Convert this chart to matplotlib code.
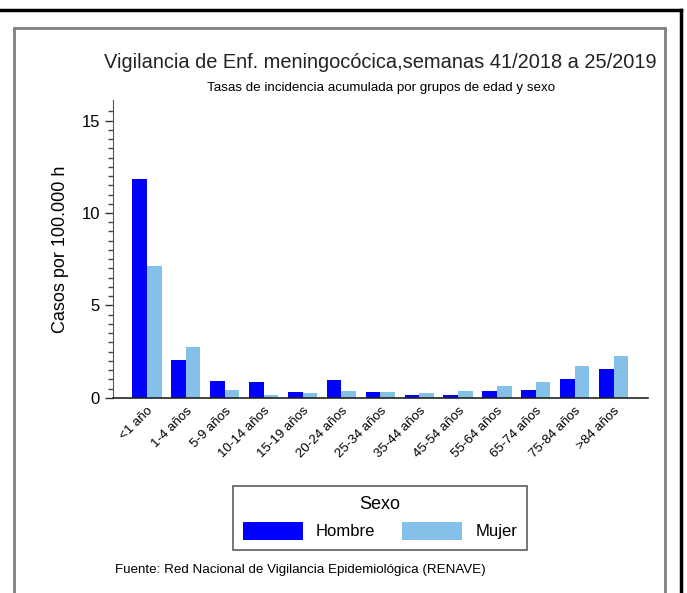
import numpy as np
from matplotlib import pyplot as plt
from matplotlib.lines import Line2D

plt.rcParams['font.family'] = ['Liberation Sans', 'DejaVu Sans']

# Age groups and rates per 100.000 inhabitants
grupos = ['<1 año', '1-4 años', '5-9 años', '10-14 años', '15-19 años',
          '20-24 años', '25-34 años', '35-44 años', '45-54 años',
          '55-64 años', '65-74 años', '75-84 años', '>84 años']
hombre = [11.86, 2.06, 0.90, 0.87, 0.34, 0.95, 0.34, 0.14, 0.14,
          0.40, 0.45, 1.03, 1.59]
mujer = [7.13, 2.76, 0.45, 0.16, 0.27, 0.36, 0.30, 0.27, 0.40,
         0.65, 0.85, 1.70, 2.24]

c_hombre = '#0000ff'
c_mujer = '#85c0e9'

fig = plt.figure(figsize=(6.87, 5.93), dpi=100)
ax = fig.add_axes([0.1645, 0.329, 0.7785, 0.502])

x = np.arange(len(grupos))
w = 0.375
b1 = ax.bar(x - w / 2, hombre, w, color=c_hombre, label='Hombre')
b2 = ax.bar(x + w / 2, mujer, w, color=c_mujer, label='Mujer')

ax.set_xlim(-0.874, 12.88)
ax.set_ylim(0, 16.1)
ax.set_yticks([0, 5, 10, 15])
ax.set_yticks(np.arange(0, 16, 0.5), minor=True)
ax.tick_params(axis='y', labelsize=12, length=6, width=1, color='#333333')
ax.tick_params(axis='y', which='minor', length=3.5, width=1, color='#444444')
ax.set_xticks(x)
ax.set_xticklabels(grupos, rotation=45, ha='right', rotation_mode='anchor',
                   fontsize=9.5)
ax.tick_params(axis='x', length=0, pad=5)
ax.set_ylabel('Casos por 100.000 h', fontsize=13, labelpad=9)

for s in ['top', 'right']:
    ax.spines[s].set_visible(False)
ax.spines['left'].set_color('#555555')
ax.spines['bottom'].set_color('#222222')
ax.spines['bottom'].set_linewidth(1.2)

fig.text(0.554, 1 - 63 / 593, 'Vigilancia de Enf. meningocócica,semanas 41/2018 a 25/2019',
         ha='center', va='center', fontsize=14.4, color='#222222')
fig.text(0.554, 1 - 88 / 593, 'Tasas de incidencia acumulada por grupos de edad y sexo',
         ha='center', va='center', fontsize=9.6)
fig.text(115 / 687, 1 - 570 / 593,
         'Fuente: Red Nacional de Vigilancia Epidemiológica (RENAVE)',
         ha='left', va='center', fontsize=9.6)

leg = fig.legend(handles=[b1, b2], title='Sexo', ncol=2, loc='center',
                 bbox_to_anchor=(380 / 687, 1 - 518 / 593), fontsize=12,
                 title_fontsize=13, frameon=True, fancybox=False,
                 edgecolor='#333333', handlelength=3.6, handleheight=1.3,
                 columnspacing=1.6, handletextpad=0.8, borderpad=0.6)
leg.get_frame().set_linewidth(1.2)

# outer frames
W, H = 687, 593
fig.add_artist(Line2D([0, 681 / W], [1 - 10 / H, 1 - 10 / H], color='black', lw=2.5))
fig.add_artist(Line2D([681 / W, 681 / W], [1 - 10 / H, 0], color='black', lw=2.5))
fig.add_artist(Line2D([14 / W, 14 / W], [0, 1 - 28 / H], color='#808080', lw=2))
fig.add_artist(Line2D([14 / W, 665 / W], [1 - 28 / H, 1 - 28 / H], color='#808080', lw=2))
fig.add_artist(Line2D([665 / W, 665 / W], [1 - 28 / H, 0], color='#808080', lw=2))

fig.savefig('out.png', dpi=100)
